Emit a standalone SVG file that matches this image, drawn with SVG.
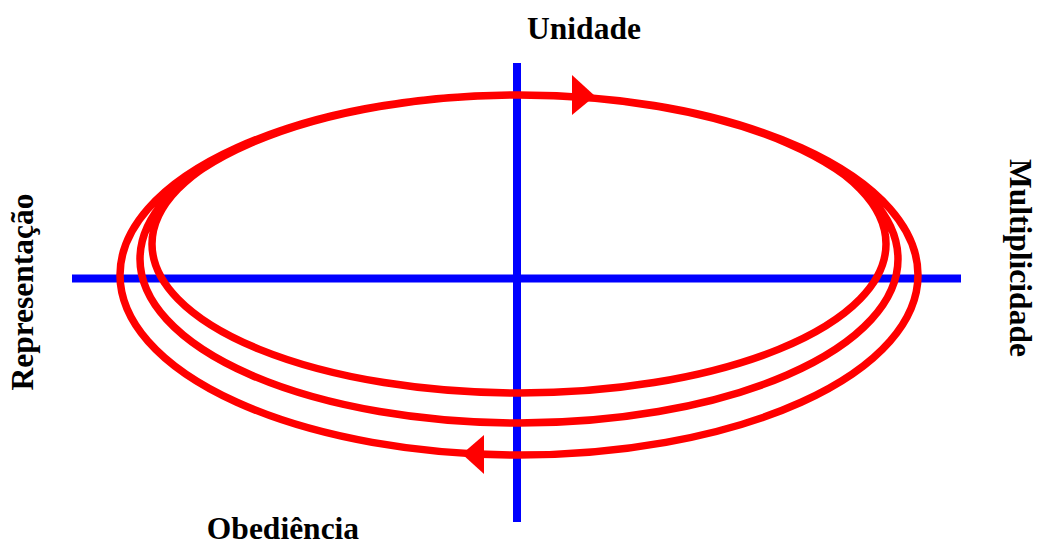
<svg xmlns="http://www.w3.org/2000/svg" width="1038" height="547" viewBox="0 0 1038 547">
<style>
.lbl{font-family:"Liberation Serif","Times New Roman",serif;font-weight:bold;font-size:31.5px;fill:#000}
.axis{stroke:#0000ff;stroke-width:8;fill:none}
.spiral{stroke:#ff0000;stroke-width:7.5;fill:none}
.head{fill:#ff0000}
</style>
<rect width="1038" height="547" fill="#fff"/>
<g id="connectors">
<line class="axis" x1="72" y1="278.5" x2="961" y2="278.5"/>
<line class="axis" x1="517" y1="63" x2="517" y2="522"/>
<path class="spiral" d="M519 95 A367 149 0 1 1 519 393 A367 149 0 1 1 519 95 A379 164 0 1 1 519 423 A379 164 0 1 1 519 95 A399 180 0 1 1 519 455 A399 180 0 1 1 519 95"/>
<polygon class="head" points="572,75 595,96 572,115"/>
<polygon class="head" points="484,435 462,454 484,474"/>
</g>
<g id="unidade"><text class="lbl" x="584" y="39" text-anchor="middle">Unidade</text></g>
<g id="obediencia"><text class="lbl" x="283" y="539" text-anchor="middle">Obediência</text></g>
<g id="representacao"><text class="lbl" transform="translate(33,292) rotate(-90)" text-anchor="middle">Representação</text></g>
<g id="multiplicidade"><text class="lbl" transform="translate(1010,258) rotate(90)" text-anchor="middle">Multiplicidade</text></g>
</svg>
